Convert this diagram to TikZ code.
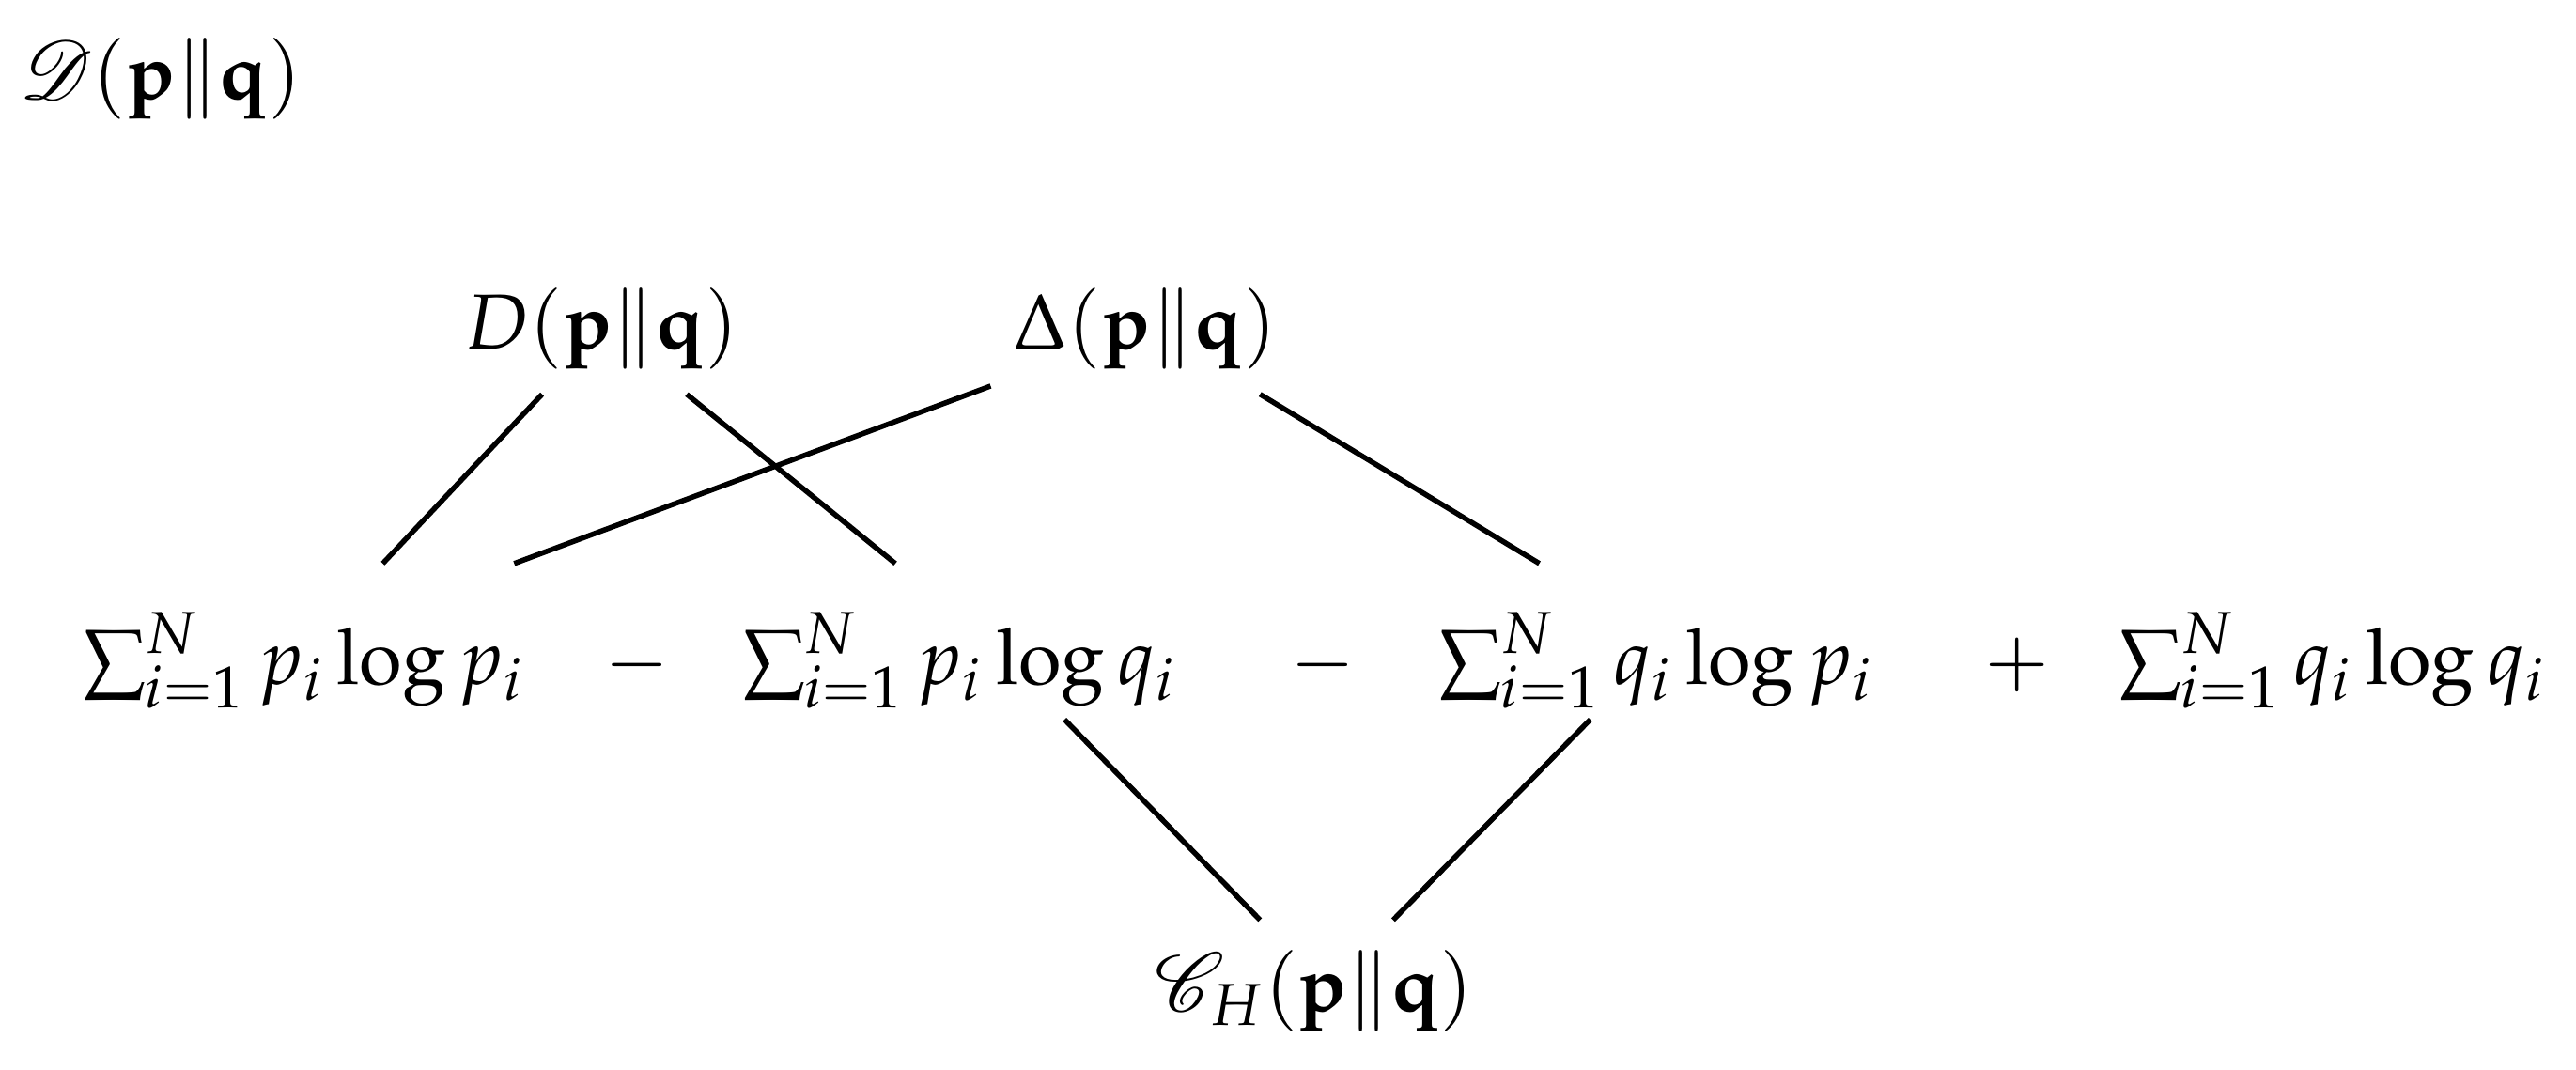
\documentclass[tikz,border=0pt]{standalone}
\usepackage{mathpazo}
\usepackage{mathrsfs}
\begin{document}
\begin{tikzpicture}[x=0.01cm,y=-0.01cm,
  lbl/.style={inner sep=0pt,font=\fontsize{13.5}{16}\selectfont},
  ln/.style={line width=0.9pt}]
\useasboundingbox (0,0) rectangle (1568,651);
\node[lbl] (T) at (98,48) {$\mathscr{D}(\mathbf{p}\|\mathbf{q})$};
\node[lbl] (D) at (366,200) {$D(\mathbf{p}\|\mathbf{q})$};
\node[lbl] (Dl) at (697,200) {$\Delta(\mathbf{p}\|\mathbf{q})$};
\node[lbl] (t1) at (185,402) {$\sum_{i=1}^N p_i\log p_i$};
\node[lbl] (m1) at (388,405) {$-$};
\node[lbl] (t2) at (584,402) {$\sum_{i=1}^N p_i\log q_i$};
\node[lbl] (m2) at (805,405) {$-$};
\node[lbl] (t3) at (1008,402) {$\sum_{i=1}^N q_i\log p_i$};
\node[lbl] (pl) at (1228,405) {$+$};
\node[lbl] (t4) at (1420,402) {$\sum_{i=1}^N q_i\log q_i$};
\node[lbl] (C) at (800,603) {$\mathscr{C}_H(\mathbf{p}\|\mathbf{q})$};
\coordinate (a1) at (330,240); \coordinate (a2) at (233,343);
\coordinate (b1) at (418,240); \coordinate (b2) at (545,343);
\coordinate (c1) at (603,235); \coordinate (c2) at (313,343);
\coordinate (d1) at (767,240); \coordinate (d2) at (937,343);
\coordinate (e1) at (648,438); \coordinate (e2) at (767,560);
\coordinate (f1) at (968,438); \coordinate (f2) at (848,560);
\draw[ln] (a1) -- (a2);
\draw[ln] (b1) -- (b2);
\draw[ln] (c1) -- (c2);
\draw[ln] (d1) -- (d2);
\draw[ln] (e1) -- (e2);
\draw[ln] (f1) -- (f2);
\end{tikzpicture}
\end{document}
